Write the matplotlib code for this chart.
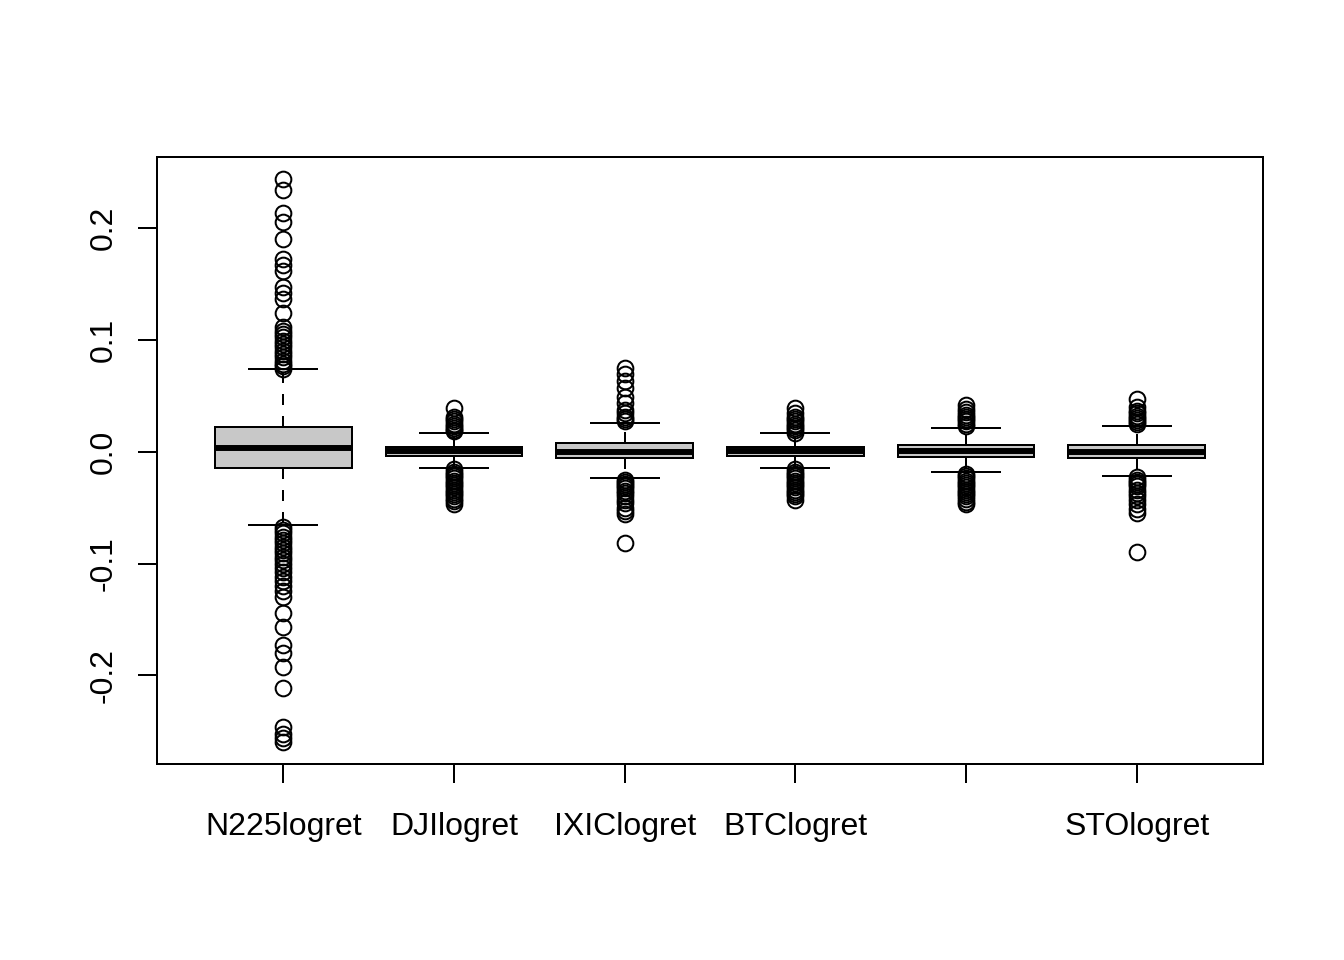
import numpy as np
import matplotlib
matplotlib.use("Agg")
import matplotlib.pyplot as plt

plt.rcParams["font.family"] = ["Liberation Sans", "DejaVu Sans"]

# series names as they appear on the x axis (the fifth label is dropped in the original)
labels = ["N225logret", "DJIlogret", "IXIClogret", "BTClogret", "", "STOlogret"]

# five-number summaries
whislo = [-0.066, -0.0145, -0.024, -0.0145, -0.018, -0.022]
q1 = [-0.0143, -0.0036, -0.0062, -0.0036, -0.0045, -0.006]
med = [0.0036, 0.0005, -0.0005, 0.0005, 0.0005, 0.0]
q3 = [0.0215, 0.0045, 0.0075, 0.0045, 0.0058, 0.0062]
whishi = [0.0734, 0.0165, 0.0255, 0.0165, 0.021, 0.023]

# outliers
fliers_n225 = [0.243, 0.2335, 0.213, 0.205, 0.19, 0.172, 0.167, 0.161, 0.147, 0.142,
               0.136, 0.124, 0.111, 0.108, 0.105, 0.102, 0.099, 0.096, 0.093, 0.090,
               0.087, 0.084, 0.081, 0.078, 0.076, 0.074,
               -0.067, -0.070, -0.073, -0.076, -0.079, -0.082, -0.085, -0.088, -0.091,
               -0.094, -0.097, -0.100, -0.104, -0.108, -0.112, -0.116, -0.120, -0.125,
               -0.130, -0.144, -0.157, -0.173, -0.180, -0.192, -0.211, -0.246, -0.252,
               -0.256, -0.259]
fliers_dji = [0.039, 0.031, 0.029, 0.027, 0.025, 0.023, 0.021, 0.019, 0.018,
              -0.016, -0.018, -0.020, -0.022, -0.024, -0.026, -0.028, -0.030, -0.032,
              -0.034, -0.036, -0.038, -0.040, -0.042, -0.044, -0.047]
fliers_ixic = [0.075, 0.069, 0.063, 0.057, 0.049, 0.043, 0.037, 0.034, 0.031, 0.029,
               0.027, -0.025, -0.027, -0.029, -0.031, -0.033, -0.035, -0.037, -0.040,
               -0.043, -0.046, -0.050, -0.053, -0.056, -0.082]
fliers_btc = [0.039, 0.034, 0.031, 0.029, 0.027, 0.025, 0.023, 0.021, 0.019, 0.017,
              -0.016, -0.018, -0.020, -0.022, -0.024, -0.026, -0.028, -0.030, -0.032,
              -0.034, -0.036, -0.038, -0.040, -0.043]
fliers_5 = [0.042, 0.038, 0.035, 0.033, 0.031, 0.029, 0.027, 0.025, 0.023,
            -0.020, -0.022, -0.024, -0.026, -0.028, -0.030, -0.032, -0.034, -0.036,
            -0.038, -0.040, -0.042, -0.045, -0.047]
fliers_sto = [0.047, 0.040, 0.036, 0.034, 0.032, 0.030, 0.028, 0.026, 0.025,
              -0.023, -0.025, -0.027, -0.029, -0.031, -0.034, -0.037, -0.040, -0.043,
              -0.047, -0.051, -0.055, -0.090]
fliers = [fliers_n225, fliers_dji, fliers_ixic, fliers_btc, fliers_5, fliers_sto]

stats = []
for i in range(len(labels)):
    stats.append(dict(whislo=whislo[i], q1=q1[i], med=med[i], q3=q3[i],
                      whishi=whishi[i], fliers=fliers[i], label=labels[i]))

lw = 1.44
fig = plt.figure(figsize=(13.44, 9.6), dpi=100)
ax = fig.add_axes([157 / 1344, 1 - 764 / 960, (1263 - 157) / 1344, (764 - 157) / 960])

pos = np.arange(1, len(labels) + 1)
ax.bxp(stats, positions=pos, widths=0.8, capwidths=0.4, patch_artist=True,
       boxprops=dict(facecolor="#c8c8c8", edgecolor="black", linewidth=lw),
       medianprops=dict(color="black", linewidth=4.3, solid_capstyle="butt"),
       whiskerprops=dict(color="black", linewidth=lw, linestyle=(0, (5.5, 5.5))),
       capprops=dict(color="black", linewidth=lw),
       flierprops=dict(marker="o", markersize=11.3, markerfacecolor="none",
                       markeredgecolor="black", markeredgewidth=lw))

allv = np.concatenate([np.array(f) for f in fliers])
lo, hi = allv.min(), allv.max()
pad = 0.04 * (hi - lo)
ax.set_ylim(lo - pad, hi + pad)
ax.set_xlim(0.5 - 0.24, len(labels) + 0.5 + 0.24)

ax.set_xticks(pos)
ax.set_xticklabels(labels)
ax.set_yticks([-0.2, -0.1, 0.0, 0.1, 0.2])
ax.set_yticklabels(["-0.2", "-0.1", "0.0", "0.1", "0.2"], rotation=90, va="center")
ax.tick_params(axis="both", length=13.5, width=lw, labelsize=23)
ax.tick_params(axis="x", pad=21)
ax.tick_params(axis="y", pad=14)
for s in ax.spines.values():
    s.set_linewidth(lw)

fig.savefig("out.png", dpi=100)
